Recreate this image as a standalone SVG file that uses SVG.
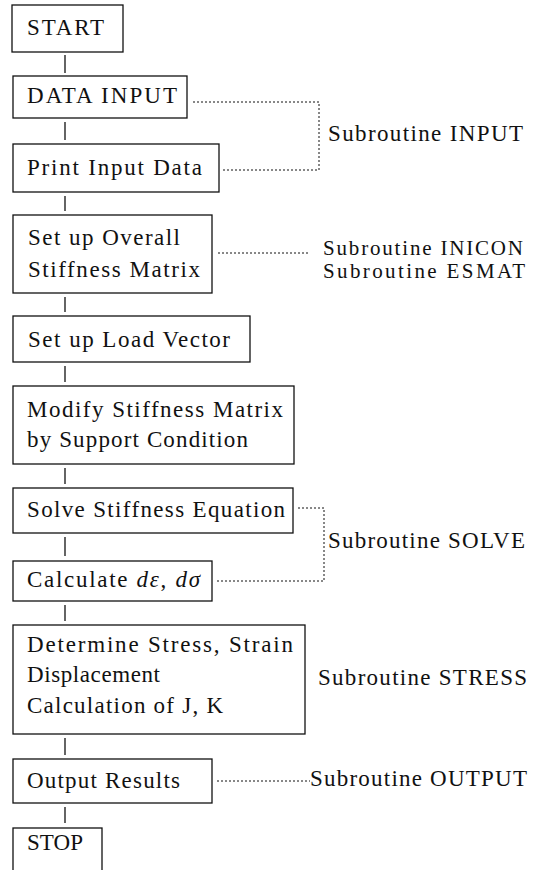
<svg xmlns="http://www.w3.org/2000/svg" width="536" height="870" viewBox="0 0 536 870">
<style>
.box{fill:none;stroke:#111;stroke-width:1.3}
.t{font-family:"Liberation Serif","DejaVu Serif",serif;font-size:23px;fill:#111}
.s{font-size:21px}
.c{stroke:#111;stroke-width:1.3;fill:none}
.d{stroke:#111;stroke-width:1;fill:none;stroke-dasharray:2,2}
</style>
<rect width="536" height="870" fill="#fff"/>
<g id="connectors">
<line class="c" x1="65" y1="55" x2="65" y2="73"/>
<line class="c" x1="65" y1="122" x2="65" y2="140"/>
<line class="c" x1="65" y1="196" x2="65" y2="211"/>
<line class="c" x1="65" y1="297" x2="65" y2="312"/>
<line class="c" x1="65" y1="366" x2="65" y2="382"/>
<line class="c" x1="65" y1="468" x2="65" y2="484"/>
<line class="c" x1="65" y1="537" x2="65" y2="556"/>
<line class="c" x1="65" y1="605" x2="65" y2="621"/>
<line class="c" x1="65" y1="738" x2="65" y2="755"/>
<line class="c" x1="65" y1="807" x2="65" y2="823"/>
<polyline class="d" points="193,102 319,102 319,170 222,170"/>
<line class="d" x1="218" y1="253" x2="308" y2="253"/>
<polyline class="d" points="298,508 324,508 324,581 215,581"/>
<line class="d" x1="217" y1="781" x2="310" y2="781"/>
</g>
<g id="start"><rect class="box" x="12" y="5" width="111" height="47"/><text class="t" x="27" y="35" textLength="77" lengthAdjust="spacing">START</text></g>
<g id="data-input"><rect class="box" x="13" y="76" width="174" height="42"/><text class="t" x="27" y="103" textLength="150" lengthAdjust="spacing">DATA INPUT</text></g>
<g id="print-input"><rect class="box" x="13" y="144" width="206" height="48"/><text class="t" x="27" y="175" textLength="175" lengthAdjust="spacing">Print Input Data</text></g>
<g id="overall"><rect class="box" x="13" y="215" width="199" height="78"/><text class="t" x="28" y="245" textLength="152" lengthAdjust="spacing">Set up Overall</text><text class="t" x="28" y="277" textLength="172" lengthAdjust="spacing">Stiffness Matrix</text></g>
<g id="load-vector"><rect class="box" x="13" y="316" width="237" height="46"/><text class="t" x="28" y="347" textLength="202" lengthAdjust="spacing">Set up Load Vector</text></g>
<g id="modify"><rect class="box" x="13" y="386" width="281" height="78"/><text class="t" x="27" y="417" textLength="256" lengthAdjust="spacing">Modify Stiffness Matrix</text><text class="t" x="27" y="447" textLength="221" lengthAdjust="spacing">by Support Condition</text></g>
<g id="solve"><rect class="box" x="13" y="488" width="280" height="45"/><text class="t" x="27" y="517" textLength="258" lengthAdjust="spacing">Solve Stiffness Equation</text></g>
<g id="calculate"><rect class="box" x="13" y="561" width="199" height="40"/><text class="t" x="27" y="587" textLength="173" lengthAdjust="spacing">Calculate <tspan font-style="italic">dε</tspan>, <tspan font-style="italic">dσ</tspan></text></g>
<g id="determine"><rect class="box" x="13" y="625" width="292" height="109"/><text class="t" x="27" y="652" textLength="266" lengthAdjust="spacing">Determine Stress, Strain</text><text class="t" x="27" y="682" textLength="133" lengthAdjust="spacing">Displacement</text><text class="t" x="27" y="713" textLength="196" lengthAdjust="spacing">Calculation of J, K</text></g>
<g id="output"><rect class="box" x="13" y="759" width="199" height="44"/><text class="t" x="27" y="788" textLength="153" lengthAdjust="spacing">Output Results</text></g>
<g id="stop"><rect class="box" x="13" y="828" width="89" height="46"/><text class="t" x="27" y="850" textLength="56" lengthAdjust="spacing">STOP</text></g>
<g id="sub-input"><text class="t" x="328" y="141" textLength="195" lengthAdjust="spacing">Subroutine INPUT</text></g>
<g id="sub-inicon"><text class="t s" x="323" y="255" textLength="200" lengthAdjust="spacing">Subroutine INICON</text><text class="t s" x="323" y="278" textLength="202" lengthAdjust="spacing">Subroutine ESMAT</text></g>
<g id="sub-solve"><text class="t" x="328" y="548" textLength="197" lengthAdjust="spacing">Subroutine SOLVE</text></g>
<g id="sub-stress"><text class="t" x="318" y="685" textLength="209" lengthAdjust="spacing">Subroutine STRESS</text></g>
<g id="sub-output"><text class="t" x="310" y="786" textLength="217" lengthAdjust="spacing">Subroutine OUTPUT</text></g>
</svg>
